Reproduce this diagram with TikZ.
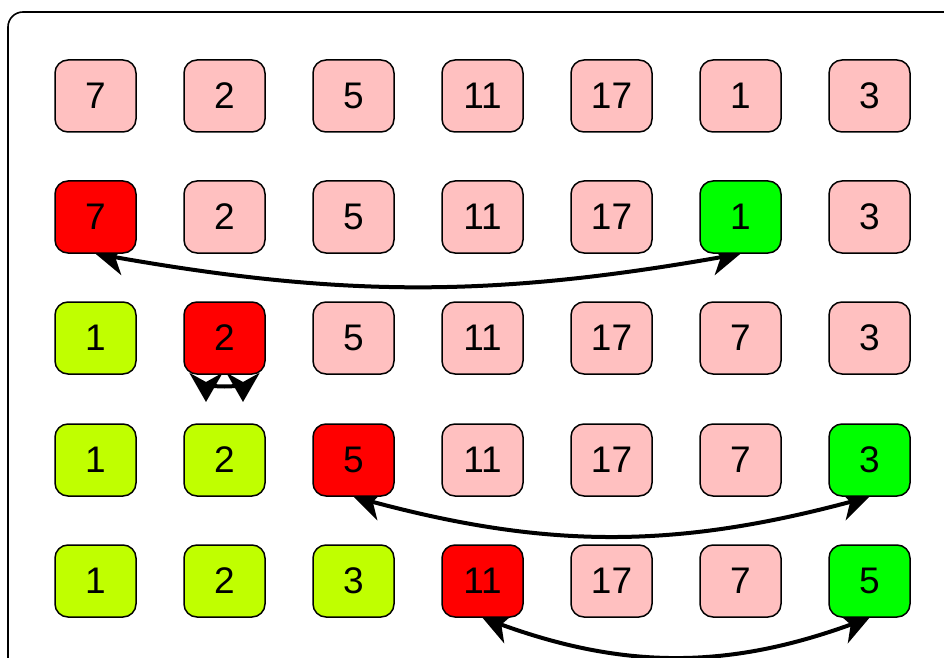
\documentclass[tikz,border=0pt]{standalone}
\usepackage{fontspec}
\setmainfont{Liberation Sans}
\usetikzlibrary{arrows.meta,backgrounds}
\definecolor{pinkc}{HTML}{FFC0C0}
\definecolor{redc}{HTML}{FF0000}
\definecolor{greenc}{HTML}{00FF00}
\definecolor{limec}{HTML}{C0FF00}
\begin{document}
\begin{tikzpicture}[x=1pt,y=1pt,
  cell/.style={draw=black, line width=1.5pt, rounded corners=13pt,
    minimum width=81pt, minimum height=72pt, inner sep=0pt,
    font=\fontsize{37}{40}\selectfont},
  swaparrow/.style={line width=4pt,
    {Stealth[length=29pt,width=33pt,inset=9pt]}-{Stealth[length=29pt,width=33pt,inset=9pt]}}
]
\useasboundingbox (0,0) rectangle (944,657);
% row 1
\foreach \v/\c [count=\i] in {7/pinkc,2/pinkc,5/pinkc,11/pinkc,17/pinkc,1/pinkc,3/pinkc}
  \node[cell, fill=\c] (a\i) at ({95.5+129*(\i-1)},561) {\v};
% row 2
\foreach \v/\c [count=\i] in {7/redc,2/pinkc,5/pinkc,11/pinkc,17/pinkc,1/greenc,3/pinkc}
  \node[cell, fill=\c] (b\i) at ({95.5+129*(\i-1)},440) {\v};
% row 3
\foreach \v/\c [count=\i] in {1/limec,2/redc,5/pinkc,11/pinkc,17/pinkc,7/pinkc,3/pinkc}
  \node[cell, fill=\c] (c\i) at ({95.5+129*(\i-1)},319) {\v};
% row 4
\foreach \v/\c [count=\i] in {1/limec,2/limec,5/redc,11/pinkc,17/pinkc,7/pinkc,3/greenc}
  \node[cell, fill=\c] (d\i) at ({95.5+129*(\i-1)},197) {\v};
% row 5
\foreach \v/\c [count=\i] in {1/limec,2/limec,3/limec,11/redc,17/pinkc,7/pinkc,5/greenc}
  \node[cell, fill=\c] (e\i) at ({95.5+129*(\i-1)},76) {\v};
\coordinate (s1) at (206,255);
\coordinate (s2) at (243,255);
\begin{pgfonlayer}{background}
  \draw[line width=1.6pt, rounded corners=15pt] (8,645) rectangle (990,-40);
  \draw[swaparrow] (b1.south) to[bend right=10] (b6.south);
  \draw[swaparrow] (s1) to[out=90,in=90,looseness=1] (s2);
  \draw[swaparrow] (d3.south) to[bend right=15] (d7.south);
  \draw[swaparrow] (e4.south) to[bend right=20] (e7.south);
\end{pgfonlayer}
\end{tikzpicture}
\end{document}
